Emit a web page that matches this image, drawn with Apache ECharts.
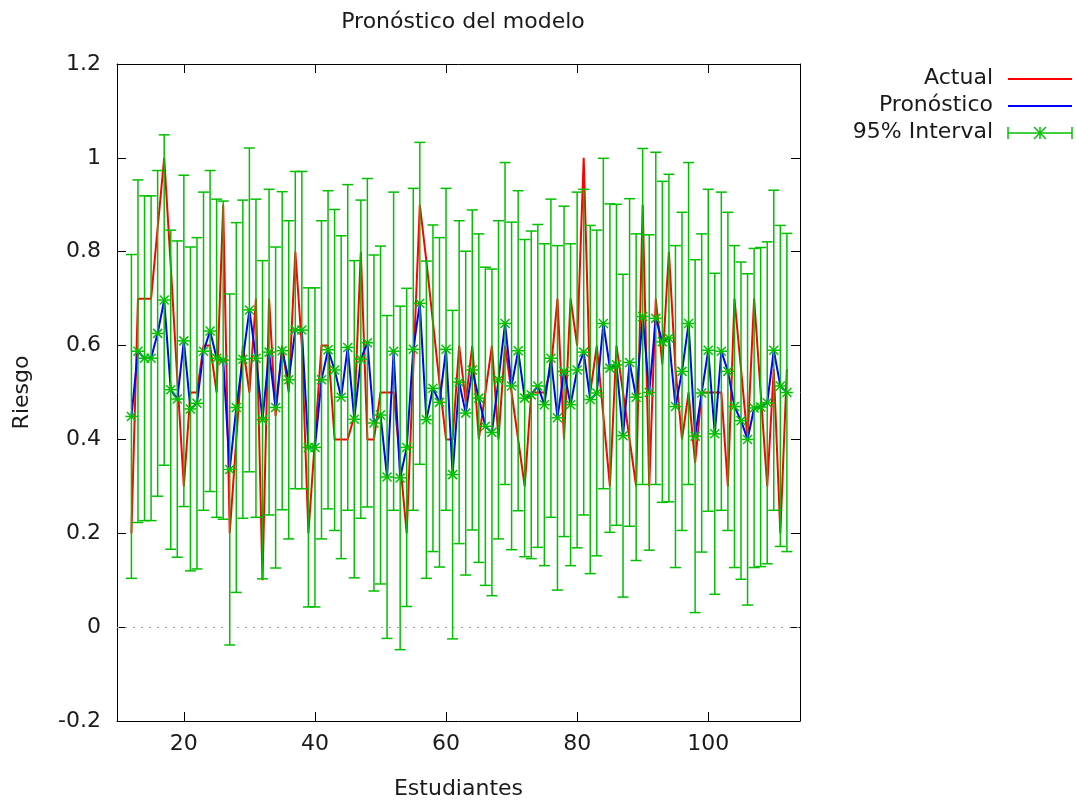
<!DOCTYPE html>
<html>
<head>
<meta charset="utf-8">
<title>Pronóstico del modelo</title>
<script src="https://cdn.jsdelivr.net/npm/echarts@6/dist/echarts.min.js"></script>
<style>
  html, body { margin: 0; padding: 0; background: #fff; }
  #chart { width: 1076px; height: 800px; }
</style>
</head>
<body>
<div id="chart"></div>
<script>
// observations run 12..112
const FIRST_OBS = 12

const actual = [
  0.2, 0.7, 0.7, 0.7, 0.85, 1.0, 0.77, 0.53, 0.3, 0.5,
  0.5, 0.6, 0.6, 0.5, 0.9, 0.2, 0.4, 0.6, 0.5, 0.7,
  0.1, 0.7, 0.45, 0.6, 0.5, 0.8, 0.6, 0.2, 0.4, 0.6,
  0.6, 0.4, 0.4, 0.4, 0.45, 0.8, 0.4, 0.4, 0.5, 0.5,
  0.5, 0.35, 0.2, 0.55, 0.9, 0.78, 0.65, 0.52, 0.4, 0.4,
  0.6, 0.48, 0.6, 0.4, 0.5, 0.6, 0.4, 0.6, 0.5, 0.4,
  0.3, 0.5, 0.5, 0.5, 0.55, 0.7, 0.4, 0.7, 0.6, 1.0,
  0.5, 0.6, 0.45, 0.3, 0.6, 0.5, 0.4, 0.3, 0.9, 0.3,
  0.7, 0.56, 0.8, 0.55, 0.4, 0.5, 0.35, 0.5, 0.5, 0.5,
  0.5, 0.3, 0.7, 0.55, 0.4, 0.7, 0.5, 0.3, 0.55, 0.2,
  0.55
]

const forecast = [
  0.449, 0.588, 0.573, 0.573, 0.626, 0.697, 0.506, 0.486, 0.610, 0.465,
  0.477, 0.588, 0.631, 0.573, 0.569, 0.336, 0.468, 0.571, 0.676, 0.573,
  0.442, 0.586, 0.468, 0.589, 0.527, 0.633, 0.633, 0.383, 0.383, 0.527,
  0.591, 0.548, 0.490, 0.596, 0.443, 0.571, 0.606, 0.435, 0.452, 0.320,
  0.588, 0.318, 0.383, 0.592, 0.690, 0.442, 0.509, 0.479, 0.592, 0.325,
  0.522, 0.456, 0.548, 0.488, 0.428, 0.415, 0.527, 0.647, 0.514, 0.589,
  0.488, 0.495, 0.514, 0.474, 0.573, 0.446, 0.545, 0.474, 0.548, 0.586,
  0.485, 0.499, 0.647, 0.552, 0.559, 0.408, 0.564, 0.490, 0.662, 0.500,
  0.658, 0.608, 0.616, 0.470, 0.545, 0.647, 0.407, 0.499, 0.590, 0.412,
  0.588, 0.545, 0.470, 0.440, 0.400, 0.467, 0.469, 0.478, 0.590, 0.514,
  0.500
]

// half width of the 95% interval
const margin95 = [
  0.345, 0.365, 0.346, 0.346, 0.347, 0.352, 0.340, 0.337, 0.353, 0.345,
  0.353, 0.339, 0.342, 0.339, 0.339, 0.374, 0.394, 0.339, 0.345, 0.339,
  0.339, 0.347, 0.342, 0.339, 0.339, 0.338, 0.338, 0.340, 0.340, 0.339,
  0.339, 0.342, 0.344, 0.347, 0.338, 0.339, 0.350, 0.358, 0.360, 0.344,
  0.339, 0.366, 0.339, 0.343, 0.343, 0.338, 0.348, 0.351, 0.343, 0.350,
  0.344, 0.345, 0.341, 0.350, 0.339, 0.348, 0.339, 0.343, 0.349, 0.341,
  0.338, 0.349, 0.344, 0.343, 0.339, 0.367, 0.352, 0.343, 0.379, 0.347,
  0.371, 0.347, 0.352, 0.350, 0.342, 0.344, 0.349, 0.348, 0.358, 0.336,
  0.354, 0.342, 0.349, 0.343, 0.339, 0.343, 0.376, 0.339, 0.343, 0.342,
  0.339, 0.339, 0.343, 0.338, 0.353, 0.340, 0.340, 0.343, 0.341, 0.342,
  0.339
]

const xTicks = [20, 40, 60, 80, 100]

const RED   = '#ff0000'
const BLUE  = '#0000ff'
const GREEN = '#00c000'
const FONT  = 'DejaVu Sans'
const FSIZE = 22
const TEXT  = '#1a1a1a'

const obs          = actual.map((_, i) => FIRST_OBS + i)
const actualData   = obs.map((x, i) => [x, actual[i]])
const forecastData = obs.map((x, i) => [x, forecast[i]])
const intervalData = obs.map((x, i) => [x, forecast[i] - margin95[i], forecast[i] + margin95[i], forecast[i]])

function renderInterval(params, api) {
  const x   = api.value(0)
  const lo  = api.coord([x, api.value(1)])
  const hi  = api.coord([x, api.value(2)])
  const mid = api.coord([x, api.value(3)])
  const cap = 5.5, r = 6, d = 4.5
  const style = { stroke: GREEN, lineWidth: 1.5 }
  const seg = (x1, y1, x2, y2) => ({ type: 'line', shape: { x1, y1, x2, y2 }, style })
  return {
    type: 'group',
    children: [
      seg(lo[0], lo[1], hi[0], hi[1]),
      seg(lo[0] - cap, lo[1], lo[0] + cap, lo[1]),
      seg(hi[0] - cap, hi[1], hi[0] + cap, hi[1]),
      seg(mid[0] - r, mid[1], mid[0] + r, mid[1]),
      seg(mid[0] - d, mid[1] - d, mid[0] + d, mid[1] + d),
      seg(mid[0] - d, mid[1] + d, mid[0] + d, mid[1] - d),
    ],
  }
}

const textStyle = { fontFamily: FONT, fontSize: FSIZE, color: TEXT }
const axisLine  = { show: true, onZero: false, lineStyle: { color: '#000', width: 1 } }
const tickStyle = { color: '#000', width: 1 }

// legend drawn by hand, gnuplot style: text right-aligned, sample to the right
function legendRow(label, y) {
  return {
    type: 'text', x: 993, y,
    style: { text: label, font: `${FSIZE}px "${FONT}"`, fill: TEXT,
      align: 'right', verticalAlign: 'middle', textAlign: 'right', textVerticalAlign: 'middle' },
  }
}
const legendLine = (y, color, w) => ({
  type: 'line', shape: { x1: 1008, y1: y, x2: 1072, y2: y }, style: { stroke: color, lineWidth: w },
})
const gl = (x1, y1, x2, y2) => ({ type: 'line', shape: { x1, y1, x2, y2 }, style: { stroke: GREEN, lineWidth: 1.5 } })

const chart = echarts.init(document.getElementById('chart'))

chart.setOption({
  backgroundColor: '#fff',
  animation: false,
  title: {
    text: 'Pronóstico del modelo',
    left: 458, top: 6, textAlign: 'center',
    textStyle: { fontFamily: FONT, fontSize: FSIZE, fontWeight: 'normal', color: TEXT },
  },
  grid: { left: 117, right: 276, top: 64, bottom: 79, outerBoundsMode: 'none' },
  xAxis: [
    {
      type: 'value', min: 9.8, max: 114, position: 'bottom',
      name: 'Estudiantes', nameLocation: 'middle', nameGap: 57, nameTextStyle: textStyle,
      axisLine,
      axisTick: { show: true, inside: true, length: 9, customValues: xTicks, lineStyle: tickStyle },
      axisLabel: { customValues: xTicks, margin: 12, ...textStyle },
      splitLine: { show: false },
    },
    {
      type: 'value', min: 9.8, max: 114, position: 'top',
      axisLine,
      axisTick: { show: true, inside: true, length: 9, customValues: xTicks, lineStyle: tickStyle },
      axisLabel: { show: false },
      splitLine: { show: false },
    },
  ],
  yAxis: [
    {
      type: 'value', min: -0.2, max: 1.2, interval: 0.2, position: 'left',
      name: 'Riesgo', nameLocation: 'middle', nameGap: 84, nameRotate: 90, nameTextStyle: textStyle,
      axisLine,
      axisTick: { show: true, inside: true, length: 9, lineStyle: tickStyle },
      axisLabel: { margin: 16, ...textStyle },
      splitLine: { show: false },
    },
    {
      type: 'value', min: -0.2, max: 1.2, interval: 0.2, position: 'right',
      axisLine,
      axisTick: { show: true, inside: true, length: 9, lineStyle: tickStyle },
      axisLabel: { show: false },
      splitLine: { show: false },
    },
  ],
  series: [
    {
      name: 'Actual', type: 'line', data: actualData,
      symbol: 'none', z: 2,
      lineStyle: { color: RED, width: 2 },
      markLine: {
        silent: true, symbol: 'none', label: { show: false },
        lineStyle: { color: '#a0a0a0', type: [2, 6], width: 1 },
        data: [{ yAxis: 0 }],
      },
    },
    {
      name: 'Pronóstico', type: 'line', data: forecastData,
      symbol: 'none', z: 3,
      lineStyle: { color: BLUE, width: 2 },
    },
    {
      name: '95% Interval', type: 'custom', data: intervalData,
      renderItem: renderInterval, z: 4,
      encode: { x: 0, y: [1, 2] },
    },
  ],
  graphic: [
    legendRow('Actual', 78), legendLine(79, RED, 2),
    legendRow('Pronóstico', 105), legendLine(106, BLUE, 2),
    legendRow('95% Interval', 132), legendLine(133, GREEN, 1.5),
    gl(1008, 127, 1008, 139), gl(1072, 127, 1072, 139),
    gl(1034, 127, 1046, 139), gl(1034, 139, 1046, 127), gl(1040, 127, 1040, 139),
  ],
})
</script>
</body>
</html>
